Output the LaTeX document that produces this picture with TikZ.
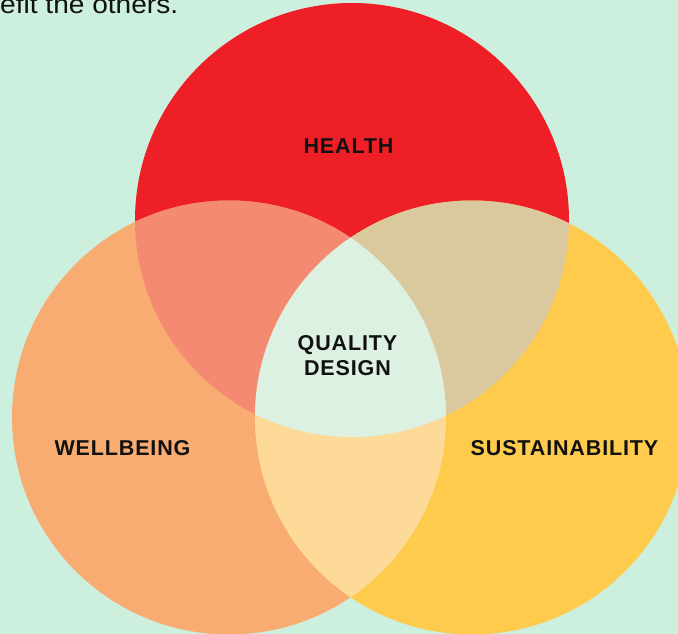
\documentclass[tikz,border=0pt]{standalone}
\usepackage{fontspec}
\setmainfont{Liberation Sans}
\newfontfamily\labfont{Liberation Sans}[LetterSpace=4]
\definecolor{bgmint}{HTML}{CDEFDD}
\definecolor{cred}{HTML}{EE1F27}
\definecolor{corange}{HTML}{F9AC72}
\definecolor{cyellow}{HTML}{FFCB4D}
\definecolor{credor}{HTML}{F58A72}
\definecolor{credye}{HTML}{DAC89E}
\definecolor{corye}{HTML}{FEDA98}
\definecolor{ccenter}{HTML}{DCF1E2}
\definecolor{ink}{HTML}{111111}
\tikzset{
  lab/.style={font=\labfont\bfseries\fontsize{21.5}{25}\selectfont, text=ink, align=center, inner sep=0pt},
  toptext/.style={font=\fontsize{26}{30}\selectfont, text=ink, inner sep=0pt, anchor=base west}
}
\begin{document}
\begin{tikzpicture}[x=1pt,y=-1pt]
\fill[bgmint] (0,0) rectangle (678,634);
\useasboundingbox (0,0) rectangle (678,634);
\coordinate (R) at (352,220);
\coordinate (O) at (229,417.5);
\coordinate (Y) at (472,417.5);
\def\rad{217}
\fill[cred] (R) circle[radius=\rad];
\fill[corange] (O) circle[radius=\rad];
\fill[cyellow] (Y) circle[radius=\rad];
\begin{scope}
  \clip (R) circle[radius=\rad];
  \fill[credor] (O) circle[radius=\rad];
  \fill[credye] (Y) circle[radius=\rad];
\end{scope}
\begin{scope}
  \clip (O) circle[radius=\rad];
  \fill[corye] (Y) circle[radius=\rad];
  \clip (Y) circle[radius=\rad];
  \fill[ccenter] (R) circle[radius=\rad];
\end{scope}
\node[toptext,xscale=1.08] (top) at (0,13.5) {efit the others.};
\node[lab] (health) at (348.5,146) {HEALTH};
\node[lab] (quality) at (347.5,356) {QUALITY\\DESIGN};
\node[lab] (well) at (122.5,448) {WELLBEING};
\node[lab] (sust) at (564.5,448) {SUSTAINABILITY};
\end{tikzpicture}
\end{document}
